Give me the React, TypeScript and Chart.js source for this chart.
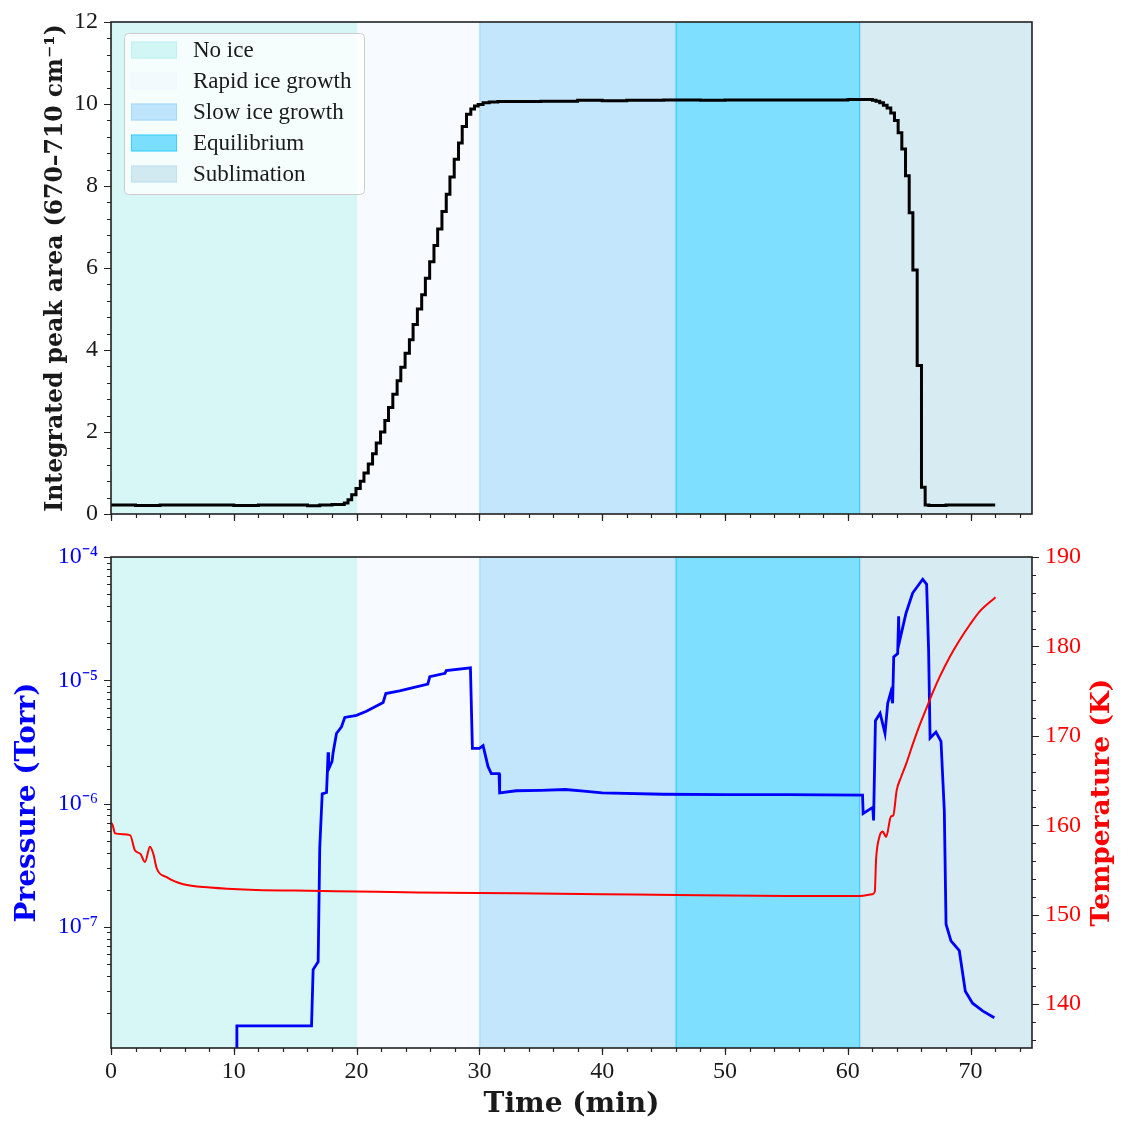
import React, { useEffect, useRef } from "react";
import { Chart, registerables } from "chart.js";

Chart.register(...registerables);

// shaded phases
const bandNames = ["No ice", "Rapid ice growth", "Slow ice growth", "Equilibrium", "Sublimation"];
const bandStart = [0, 20, 30, 46, 61];
const bandEnd = [20, 30, 46, 61, 75];
const bandFill = [
  "rgba(175,238,238,0.5)",
  "rgba(240,248,255,0.5)",
  "rgba(135,206,250,0.5)",
  "rgba(0,191,255,0.5)",
  "rgba(173,216,230,0.5)",
];

// top panel: integrated peak area
const iceTime = [
  0, 2, 4, 6, 8, 10, 12, 14, 16, 17, 18, 19, 19.3, 19.6, 19.95, 20.3, 20.6, 20.95, 21.3, 21.6,
  21.95, 22.3, 22.6, 22.95, 23.3, 23.6, 23.95, 24.3, 24.6, 24.95, 25.3, 25.6, 25.95, 26.3, 26.6,
  26.95, 27.3, 27.6, 27.95, 28.3, 28.6, 28.95, 29.3, 29.6, 29.9, 30.3, 30.8, 31.5, 33, 35, 38, 40,
  42, 45, 48, 50, 52, 55, 58, 60, 62, 62.3, 62.6, 62.9, 63.2, 63.5, 63.8, 64.1, 64.4, 64.7, 65.0,
  65.3, 65.65, 66.0, 66.3, 66.6, 68, 70, 72,
];
const iceArea = [
  0.22, 0.22, 0.21, 0.22, 0.22, 0.22, 0.21, 0.22, 0.22, 0.2, 0.22, 0.23, 0.27, 0.35, 0.47, 0.62, 0.8,
  1.0, 1.22, 1.47, 1.73, 2.0, 2.28, 2.6, 2.92, 3.25, 3.58, 3.92, 4.25, 4.62, 5.0, 5.35, 5.75, 6.15,
  6.55, 6.95, 7.38, 7.8, 8.22, 8.65, 9.05, 9.45, 9.75, 9.88, 9.95, 9.99, 10.03, 10.05, 10.06, 10.06,
  10.07, 10.09, 10.08, 10.09, 10.1, 10.09, 10.1, 10.1, 10.1, 10.1, 10.11, 10.09, 10.07, 10.03, 9.97,
  9.9, 9.78, 9.6, 9.3, 8.9, 8.25, 7.35, 5.95, 3.62, 0.65, 0.22, 0.21, 0.22, 0.22,
];

// bottom panel: pressure (Torr)
const pressureTime = [
  10.23, 10.25, 16.33, 16.46, 16.87, 17.0, 17.2, 17.55, 17.62, 17.68, 17.72, 18.0, 18.09, 18.36,
  18.77, 19.04, 19.99, 20.8, 22.16, 22.38, 23.5, 25.8, 25.96, 27.2, 27.3, 29.27, 29.43, 30.0, 30.3,
  30.7, 30.97, 31.6, 31.65, 33, 35, 37, 38.5, 40, 45, 50, 55, 61.2, 61.25, 62.03, 62.1, 62.25,
  62.63, 63.03, 63.25, 63.5, 63.65, 63.74, 64.06, 64.14, 64.18, 64.74, 65.28, 66.1, 66.42, 66.58,
  66.7, 67.18, 67.59, 67.86, 68.0, 68.4, 69.08, 69.57, 70.16, 70.98, 71.93,
];
const pressureTorr = [
  5e-9, 1.57e-8, 1.57e-8, 4.5e-8, 5.2e-8, 4.4e-7, 1.2e-6, 1.23e-6, 1.8e-6, 2.6e-6, 1.9e-6, 2.2e-6,
  2.6e-6, 3.7e-6, 4.2e-6, 5.0e-6, 5.2e-6, 5.6e-6, 6.6e-6, 7.8e-6, 8.2e-6, 9.3e-6, 1.07e-5, 1.14e-5,
  1.2e-5, 1.26e-5, 2.8e-6, 2.8e-6, 2.95e-6, 2.0e-6, 1.75e-6, 1.75e-6, 1.22e-6, 1.27e-6, 1.28e-6,
  1.3e-6, 1.26e-6, 1.22e-6, 1.19e-6, 1.18e-6, 1.18e-6, 1.17e-6, 8.3e-7, 9.3e-7, 7.3e-7, 4.7e-6,
  5.4e-6, 3.7e-6, 6.5e-6, 8.0e-6, 6.5e-6, 1.55e-5, 1.65e-5, 3.3e-5, 2.0e-5, 3.5e-5, 5.1e-5, 6.6e-5,
  6.0e-5, 1.76e-5, 3.4e-6, 3.8e-6, 3.2e-6, 8.7e-7, 1.05e-7, 7.7e-8, 6.4e-8, 3.0e-8, 2.4e-8,
  2.08e-8, 1.83e-8,
];

// bottom panel: temperature (K)
const tempTime = [
  0, 0.14, 0.33, 1.55, 1.95, 2.4, 2.77, 3.17, 3.45, 3.72, 4.53, 5.88, 8.06, 11.3, 15, 20, 25, 33,
  40, 46, 55, 61, 62.0, 62.2, 62.3, 62.57, 62.84, 63.12, 63.52, 63.7, 63.98, 64.34, 64.76, 65.3,
  65.85, 66.39, 66.93, 67.48, 68.29, 69.1, 69.92, 70.73, 72.03,
];
const tempK = [
  160.3, 160.0, 159.1, 158.9, 157.2, 156.8, 155.9, 157.6, 156.8, 155.2, 154.2, 153.4, 153.05, 152.8,
  152.7, 152.6, 152.5, 152.4, 152.3, 152.2, 152.1, 152.1, 152.3, 152.6, 156.1, 158.7, 159.3, 158.7,
  161.0, 161.1, 163.9, 165.4, 166.9, 169.1, 171.2, 173.05, 174.9, 176.6, 178.8, 180.7, 182.4, 183.9,
  185.5,
];

// tick positions
const timeTicks = [0, 10, 20, 30, 40, 50, 60, 70];
const areaTicks = [0, 2, 4, 6, 8, 10, 12];
const pressureTicks = [1e-7, 1e-6, 1e-5, 1e-4];
const tempTicks = [140, 150, 160, 170, 180, 190];

const SERIF = "Liberation Serif";
const BOLD = "DejaVu Serif";
const INK = "#1a1a1a";
const SUP: Record<string, string> = { "-": "⁻", "0": "⁰", "1": "¹", "2": "²", "3": "³", "4": "⁴", "5": "⁵", "6": "⁶", "7": "⁷", "8": "⁸", "9": "⁹" };
const powLabel = (v: number) => "10" + String(Math.round(Math.log10(v))).split("").map((c) => SUP[c]).join("");

const range = (a: number, b: number, s: number) => {
  const out: number[] = [];
  for (let v = a; v <= b + 1e-9; v += s) out.push(+v.toFixed(6));
  return out;
};
const logMinors = (lo: number, hi: number) => {
  const out: number[] = [];
  for (let d = -9; d <= -5; d++) for (let k = 2; k <= 9; k++) {
    const v = k * Math.pow(10, d);
    if (v >= lo && v <= hi) out.push(v);
  }
  return out;
};

function tickLines(ctx: CanvasRenderingContext2D, scale: any, values: number[], len: number, side: string) {
  const a = scale.chart.chartArea;
  ctx.beginPath();
  values.forEach((v) => {
    const p = Math.round(scale.getPixelForValue(v)) + 0.5;
    if (side === "bottom") { ctx.moveTo(p, a.bottom); ctx.lineTo(p, a.bottom + len); }
    if (side === "left") { ctx.moveTo(a.left, p); ctx.lineTo(a.left - len, p); }
    if (side === "right") { ctx.moveTo(a.right, p); ctx.lineTo(a.right + len, p); }
  });
  ctx.stroke();
}

const bandsPlugin = {
  id: "bands",
  beforeDatasetsDraw(chart: any) {
    const { ctx, chartArea: a, scales } = chart;
    ctx.save();
    ctx.beginPath();
    ctx.rect(a.left, a.top, a.right - a.left, a.bottom - a.top);
    ctx.clip();
    bandStart.forEach((s, i) => {
      const x0 = scales.x.getPixelForValue(s);
      const x1 = scales.x.getPixelForValue(bandEnd[i]);
      ctx.fillStyle = bandFill[i];
      ctx.fillRect(x0, a.top, x1 - x0, a.bottom - a.top);
      ctx.strokeStyle = bandFill[i];
      ctx.lineWidth = 1.2;
      ctx.beginPath();
      ctx.moveTo(x0 + 0.5, a.top);
      ctx.lineTo(x0 + 0.5, a.bottom);
      ctx.moveTo(x1 - 0.5, a.top);
      ctx.lineTo(x1 - 0.5, a.bottom);
      ctx.stroke();
    });
    ctx.restore();
  },
  afterDraw(chart: any) {
    const { ctx, chartArea: a, scales } = chart;
    const bottomPanel = !!scales.y1;
    ctx.save();
    ctx.strokeStyle = "#222";
    ctx.lineWidth = 1.2;
    tickLines(ctx, scales.x, timeTicks, 7, "bottom");
    tickLines(ctx, scales.x, range(0, 74, 2), 4, "bottom");
    if (bottomPanel) {
      tickLines(ctx, scales.y, pressureTicks, 7, "left");
      tickLines(ctx, scales.y, logMinors(scales.y.min, scales.y.max), 4, "left");
      tickLines(ctx, scales.y1, tempTicks, 7, "right");
      tickLines(ctx, scales.y1, range(136, 190, 2), 4, "right");
    } else {
      tickLines(ctx, scales.y, areaTicks, 7, "left");
      tickLines(ctx, scales.y, range(0, 12, 0.4), 4, "left");
    }
    ctx.lineWidth = 1.6;
    ctx.strokeRect(a.left, a.top, a.right - a.left, a.bottom - a.top);

    if (bottomPanel) {
      ctx.save();
      ctx.translate(1102, (a.top + a.bottom) / 2);
      ctx.rotate(-Math.PI / 2);
      ctx.fillStyle = "#ff0000";
      ctx.font = `bold 26.5px "${BOLD}"`;
      ctx.textAlign = "center";
      ctx.textBaseline = "middle";
      ctx.fillText("Temperature (K)", 0, 0);
      ctx.restore();
    } else {
      // legend
      ctx.fillStyle = "rgba(255,255,255,0.8)";
      ctx.strokeStyle = "#cccccc";
      ctx.lineWidth = 1;
      ctx.beginPath();
      ctx.roundRect(124.5, 33.5, 240, 161, 4);
      ctx.fill();
      ctx.stroke();
      ctx.font = `23px "${SERIF}"`;
      ctx.textBaseline = "middle";
      ctx.textAlign = "left";
      bandNames.forEach((name, i) => {
        const cy = 50 + i * 31;
        ctx.fillStyle = bandFill[i];
        ctx.fillRect(131, cy - 8.5, 46, 17);
        ctx.strokeStyle = bandFill[i];
        ctx.strokeRect(131.5, cy - 8, 45, 16);
        ctx.fillStyle = INK;
        ctx.fillText(name, 193, cy + 1);
      });
    }
    ctx.restore();
  },
};

export default function App() {
  const topRef = useRef<HTMLCanvasElement>(null);
  const botRef = useRef<HTMLCanvasElement>(null);

  useEffect(() => {
    document.body.style.margin = "0";
    const tickFont = { family: SERIF, size: 24 };

    const top = new Chart(topRef.current!, {
      type: "line",
      data: {
        datasets: [
          {
            data: iceTime.map((t, i) => ({ x: t, y: iceArea[i] })),
            borderColor: "#000",
            borderWidth: 3,
            pointRadius: 0,
            stepped: "after",
          },
        ],
      },
      options: {
        responsive: false,
        animation: false,
        events: [],
        layout: { padding: { top: 22, right: 97, bottom: 26, left: 0 } },
        plugins: { legend: { display: false }, tooltip: { enabled: false } },
        scales: {
          x: { type: "linear", min: 0, max: 75, display: false },
          y: {
            type: "linear",
            min: 0,
            max: 12,
            afterBuildTicks: (s: any) => { s.ticks = areaTicks.map((v) => ({ value: v })); },
            afterFit: (s: any) => { s.width = 111; },
            grid: { display: false, drawTicks: true, tickLength: 13 },
            border: { display: false },
            ticks: { font: tickFont, color: INK, padding: 0 },
            title: {
              display: true,
              text: "Integrated peak area (670–710 cm⁻¹)",
              color: INK,
              font: { family: BOLD, size: 23.5, weight: "bold" },
              padding: { top: 42, bottom: 0 },
            },
          },
        },
      },
      plugins: [bandsPlugin],
    } as any);

    const bot = new Chart(botRef.current!, {
      type: "line",
      data: {
        datasets: [
          {
            data: tempTime.map((t, i) => ({ x: t, y: tempK[i] })),
            borderColor: "#ff0000",
            borderWidth: 2,
            pointRadius: 0,
            cubicInterpolationMode: "monotone",
            yAxisID: "y1",
            order: 0,
          },
          {
            data: pressureTime.map((t, i) => ({ x: t, y: pressureTorr[i] })),
            borderColor: "#0000ff",
            borderWidth: 2.8,
            pointRadius: 0,
            yAxisID: "y",
            order: 1,
          },
        ],
      },
      options: {
        responsive: false,
        animation: false,
        events: [],
        layout: { padding: { top: 17, right: 0, bottom: 0, left: 0 } },
        plugins: { legend: { display: false }, tooltip: { enabled: false } },
        scales: {
          x: {
            type: "linear",
            min: 0,
            max: 75,
            afterBuildTicks: (s: any) => { s.ticks = timeTicks.map((v) => ({ value: v })); },
            afterFit: (s: any) => { s.height = 86; },
            grid: { display: false, drawTicks: true, tickLength: 9 },
            border: { display: false },
            ticks: { font: tickFont, color: INK, padding: 0, maxRotation: 0 },
            title: {
              display: true,
              text: "Time (min)",
              color: INK,
              font: { family: BOLD, size: 28, weight: "bold" },
              padding: { top: 0, bottom: 12 },
            },
          },
          y: {
            type: "logarithmic",
            position: "left",
            min: 1.04e-8,
            max: 1e-4,
            afterBuildTicks: (s: any) => { s.ticks = pressureTicks.map((v) => ({ value: v })); },
            afterFit: (s: any) => { s.width = 111; },
            grid: { display: false, drawTicks: true, tickLength: 13 },
            border: { display: false },
            ticks: { font: tickFont, color: "#0000ff", padding: 0, callback: (v: any) => powLabel(Number(v)) },
            title: {
              display: true,
              text: "Pressure (Torr)",
              color: "#0000ff",
              font: { family: BOLD, size: 28, weight: "bold" },
              padding: { top: 11, bottom: 0 },
            },
          },
          y1: {
            type: "linear",
            position: "right",
            min: 135.1,
            max: 190,
            afterBuildTicks: (s: any) => { s.ticks = tempTicks.map((v) => ({ value: v })); },
            afterFit: (s: any) => { s.width = 97; },
            grid: { display: false, drawTicks: true, tickLength: 13 },
            border: { display: false },
            ticks: { font: tickFont, color: "#ff0000", padding: 0 },
          },
        },
      },
      plugins: [bandsPlugin],
    } as any);

    return () => {
      top.destroy();
      bot.destroy();
    };
  }, []);

  return (
    <div style={{ position: "absolute", left: 0, top: 0, width: 1129, height: 1134, background: "#fff" }}>
      <canvas ref={topRef} width={1129} height={540} style={{ position: "absolute", left: 0, top: 0, display: "block" }} />
      <canvas ref={botRef} width={1129} height={594} style={{ position: "absolute", left: 0, top: 540, display: "block" }} />
    </div>
  );
}
